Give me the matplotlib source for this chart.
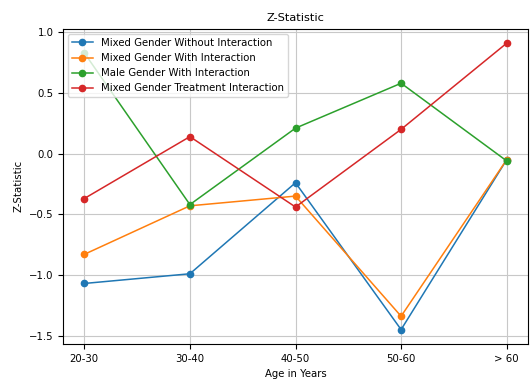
import matplotlib
matplotlib.use("Agg")
import matplotlib.pyplot as plt

categories = ["20-30", "30-40", "40-50", "50-60", "> 60"]
mixed_without = [-1.07, -0.99, -0.24, -1.45, -0.05]
mixed_with = [-0.83, -0.43, -0.35, -1.34, -0.05]
male_with = [0.83, -0.42, 0.21, 0.58, -0.06]
mixed_treat = [-0.37, 0.14, -0.44, 0.20, 0.91]

labels = ["Mixed Gender Without Interaction", "Mixed Gender With Interaction",
          "Male Gender With Interaction", "Mixed Gender Treatment Interaction"]

plt.rcParams["font.size"] = 7.3
fig = plt.figure(figsize=(5.31, 3.80), dpi=100)
ax = fig.add_axes([0.119, 0.095, 0.875, 0.829])
for vals, lab in zip([mixed_without, mixed_with, male_with, mixed_treat], labels):
    ax.plot(categories, vals, marker="o", markersize=4.5, linewidth=1.1, label=lab)
ax.set_title("Z-Statistic", fontsize=8.2)
ax.set_xlabel("Age in Years")
ax.set_ylabel("Z-Statistic")
ax.grid(True, color="#c8c8c8")
ax.legend(loc="upper left", framealpha=0.8)
fig.savefig("out.png", dpi=100)
